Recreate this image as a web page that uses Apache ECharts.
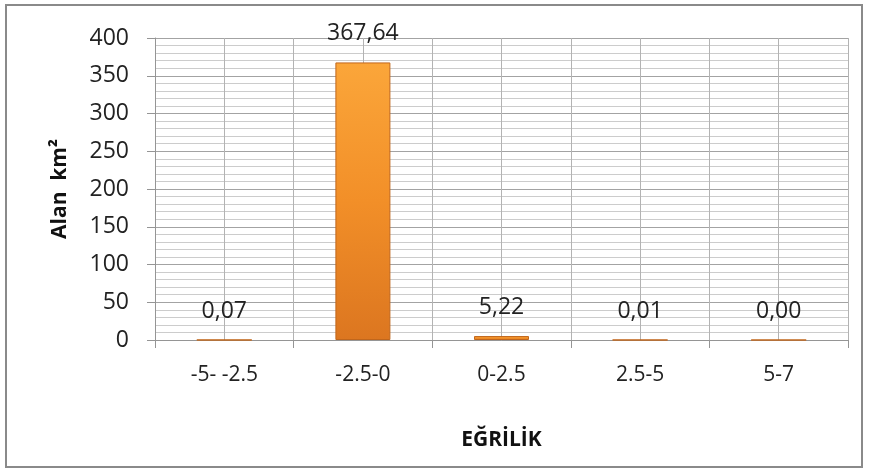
<!DOCTYPE html>
<html>
<head>
<meta charset="utf-8">
<script src="https://cdn.jsdelivr.net/npm/echarts@6/dist/echarts.min.js"></script>
<style>
  html, body { margin: 0; padding: 0; background: #ffffff; }
  #chart { width: 869px; height: 473px; }
</style>
</head>
<body>
<div id="chart"></div>
<script>
// Curvature classes and the area (km²) falling in each class
const categories = ['-5- -2.5', '-2.5-0', '0-2.5', '2.5-5', '5-7'];
const areaValues = [0.07, 367.64, 5.22, 0.01, 0.00];

const yTicks = { min: 0, max: 400, interval: 50 };
const xAxisTitle = 'EĞRİLİK';
const yAxisTitle = 'Alan  km²';

const FONT = '"Open Sans", "Noto Sans", sans-serif';
const TEXT = '#222222';

const chart = echarts.init(document.getElementById('chart'), null, { renderer: 'canvas' });

const fmt = v => v.toFixed(2).replace('.', ',');

chart.setOption({
  animation: false,
  backgroundColor: '#ffffff',
  graphic: [{
    type: 'rect',
    shape: { x: 6, y: 5, width: 856, height: 462 },
    style: { fill: 'none', stroke: '#8a8a8a', lineWidth: 2 },
    silent: true
  }],
  grid: { left: 155, right: 21, top: 38, bottom: 133, containLabel: false },
  xAxis: [{
    type: 'category',
    data: categories,
    boundaryGap: true,
    axisLine: { lineStyle: { color: '#959595', width: 1 } },
    axisTick: { show: true, length: 8, lineStyle: { color: '#959595' } },
    axisLabel: { color: TEXT, fontFamily: FONT, fontSize: 21, margin: 25 },
    splitLine: { show: false },
    name: xAxisTitle,
    nameLocation: 'middle',
    nameGap: 90,
    nameTextStyle: { color: '#111111', fontFamily: FONT, fontSize: 21, fontWeight: 'bold' }
  }, {
    // helper axis for vertical grid lines at every half category
    type: 'value',
    min: 0,
    max: categories.length * 2,
    interval: 1,
    position: 'bottom',
    axisLine: { show: false },
    axisTick: { show: false },
    axisLabel: { show: false },
    splitLine: { show: true, lineStyle: { color: '#b3b3b3', width: 1 } }
  }],
  yAxis: {
    type: 'value',
    min: yTicks.min,
    max: yTicks.max,
    interval: yTicks.interval,
    axisLine: { show: true, lineStyle: { color: '#959595', width: 1 } },
    axisTick: { show: true, length: 8, lineStyle: { color: '#959595' } },
    axisLabel: { color: TEXT, fontFamily: FONT, fontSize: 23, margin: 26 },
    splitLine: { show: true, lineStyle: { color: '#a3a3a3', width: 1 } },
    minorTick: { show: false, splitNumber: 5 },
    minorSplitLine: { show: true, lineStyle: { color: '#cccccc', width: 1 } },
    name: yAxisTitle,
    nameLocation: 'middle',
    nameRotate: 90,
    nameGap: 84,
    nameTextStyle: { color: '#111111', fontFamily: FONT, fontSize: 21, fontWeight: 'bold' }
  },
  series: [{
    type: 'bar',
    xAxisIndex: 0,
    data: areaValues,
    barWidth: 55,
    itemStyle: {
      color: new echarts.graphic.LinearGradient(0, 0, 0, 1, [
        { offset: 0, color: '#FBA63A' },
        { offset: 0.5, color: '#F28F28' },
        { offset: 1, color: '#DC7620' }
      ]),
      borderColor: '#C0661C',
      borderWidth: 1
    },
    label: {
      show: true,
      position: 'top',
      distance: 17,
      color: TEXT,
      fontFamily: FONT,
      fontSize: 23,
      formatter: p => fmt(p.value)
    }
  }]
});
</script>
</body>
</html>
